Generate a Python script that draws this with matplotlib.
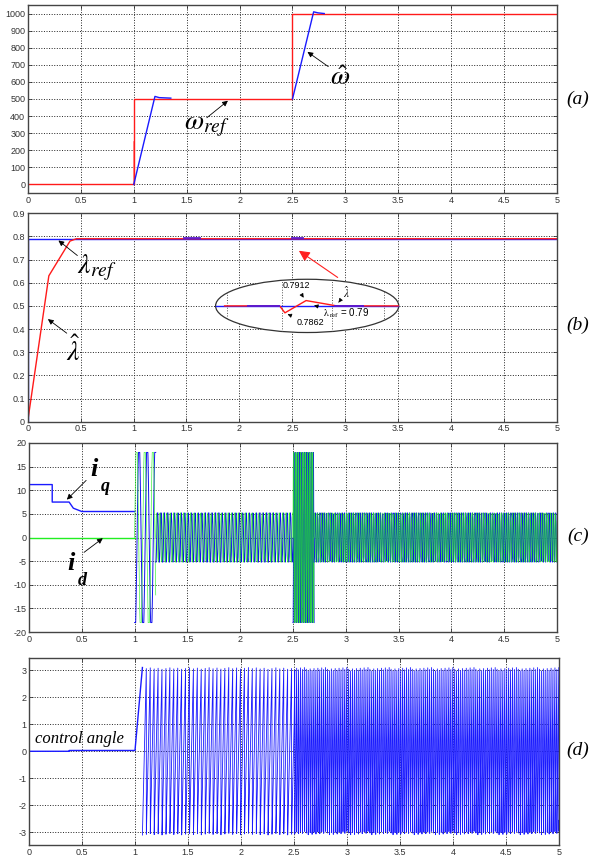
import numpy as np
import matplotlib
matplotlib.use('Agg')
import matplotlib.pyplot as plt
from matplotlib.patches import Ellipse

plt.rcParams['mathtext.fontset'] = 'stix'
plt.rcParams['font.family'] = ['Liberation Sans', 'DejaVu Sans']
plt.rcParams['axes.unicode_minus'] = False

# ---- panel (a): speed ----
w_ref_t = [0, 1.0, 1.0, 2.5, 2.5, 5.0]
w_ref_v = [0, 0, 500, 500, 1000, 1000]
w_spike_t = [1.0, 1.0]
w_spike_v = [0, 250]
w_hat1_t = [1.0, 1.2, 1.24, 1.35]
w_hat1_v = [0, 515, 508, 505]
w_hat2_t = [2.5, 2.7, 2.74, 2.8]
w_hat2_v = [500, 1010, 1004, 1000]

# ---- panel (b): flux ----
lam_ref_t = [0, 0, 5.0]
lam_ref_v = [0, 0.79, 0.79]
lam_hat_t = [0, 0.2, 0.4, 0.46, 5.0]
lam_hat_v = [0, 0.63, 0.78, 0.79, 0.79]
lam_blip_t = [[1.48, 1.63], [2.5, 2.6]]
# inset (drawn in the frame of panel b)
ins_red_t = [1.86, 2.38, 2.43, 2.63, 2.92, 3.5]
ins_red_v = [0.5, 0.5, 0.47, 0.523, 0.5, 0.5]
ins_blue_t = [1.78, 3.5]
ins_purple_t = [[2.08, 2.37], [2.90, 3.17]]
ins_grid_x = [1.88, 2.40, 2.87, 3.37]

# ---- panel (c): currents ----
iq_t = [0, 0.22, 0.22, 0.38, 0.42, 0.5, 1.0]
iq_v = [11.2, 11.2, 7.5, 7.5, 6.2, 5.5, 5.5]
id_t = [0, 1.0]
id_v = [0, 0]
osc_start = [1.0, 1.2, 2.5, 2.7]
osc_end = [1.2, 2.5, 2.7, 5.0]
osc_amp = [18.0, 5.2, 18.0, 5.2]
osc_freq = [13.0, 31.0, 60.0, 47.0]
osc_dt = [0.0004, 0.004, 0.002, 0.004]

# ---- panel (d): control angle ----
ang_t = [0, 0.38, 0.38, 1.0, 1.07]
ang_v = [0, 0, 0.03, 0.03, 3.1]
saw_start = [1.07, 2.5]
saw_end = [2.5, 5.0]
saw_freq = [27.0, 55.0]
saw_amp = 3.1

blue = '#1a1aff'
red = '#ff1a1a'
green = '#22ee22'


def style(ax, yt, ylim):
    ax.set_xlim(0, 5)
    ax.set_ylim(*ylim)
    ax.set_xticks(np.arange(0, 5.01, 0.5))
    ax.set_xticklabels(['0', '0.5', '1', '1.5', '2', '2.5', '3', '3.5', '4', '4.5', '5'])
    ax.set_yticks(yt)
    ax.grid(True, linestyle=':', color='#222222', linewidth=0.7)
    ax.tick_params(direction='in', length=3, width=0.6, labelsize=6.5,
                   colors='#333333', top=True, right=True, pad=2)
    for s in ax.spines.values():
        s.set_color('#444444')
        s.set_linewidth(1.0)


fig = plt.figure(figsize=(5.94, 8.6), dpi=100)
axa = fig.add_axes([0.0471, 0.7756, 0.8906, 0.2186])
axb = fig.add_axes([0.0466, 0.5097, 0.8911, 0.2423])
axc = fig.add_axes([0.0488, 0.2651, 0.8889, 0.2198])
axd = fig.add_axes([0.0488, 0.0174, 0.8923, 0.2174])

arrow_k = dict(arrowstyle='-|>', color='k', lw=0.6, mutation_scale=8)

# (a)
style(axa, np.arange(0, 1001, 100), (-50, 1050))
axa.set_yticklabels([str(v) for v in range(0, 1001, 100)])
axa.plot(w_spike_t, w_spike_v, color='#ff8080', lw=1.2)
axa.plot(w_ref_t, w_ref_v, color=red, lw=1.0)
axa.plot(w_hat1_t, w_hat1_v, color=blue, lw=1.0)
axa.plot(w_hat2_t, w_hat2_v, color=blue, lw=1.0)
axa.annotate('', xy=(1.91, 500), xytext=(1.67, 380), arrowprops=arrow_k)
axa.text(1.47, 340, r'$\omega_{ref}$', fontsize=20, va='center')
axa.annotate('', xy=(2.62, 785), xytext=(2.86, 680), arrowprops=arrow_k)
axa.text(2.85, 620, r'$\hat{\omega}$', fontsize=20, va='center')

# (b)
style(axb, np.arange(0, 0.91, 0.1), (0, 0.9))
axb.set_yticklabels(['0', '0.1', '0.2', '0.3', '0.4', '0.5', '0.6', '0.7', '0.8', '0.9'])
axb.plot(lam_ref_t, lam_ref_v, color=blue, lw=1.0)
axb.plot(lam_hat_t, lam_hat_v, color=red, lw=1.0)
for seg in lam_blip_t:
    axb.plot(seg, [0.7915, 0.7915], color='#5a1ad0', lw=1.3)
ell = Ellipse((2.64, 0.5), 1.73, 0.23, facecolor='white', edgecolor='#333333', lw=0.9, zorder=3)
axb.add_patch(ell)
for gx in ins_grid_x:
    ln, = axb.plot([gx, gx], [0.38, 0.62], ls=':', color='#555555', lw=0.7, zorder=3.1)
    ln.set_clip_path(ell)
axb.plot(ins_blue_t, [0.5, 0.5], color=blue, lw=1.0, zorder=3.2)
axb.plot(ins_red_t, ins_red_v, color=red, lw=1.0, zorder=3.3)
for seg in ins_purple_t:
    axb.plot(seg, [0.5, 0.5], color='#5a1ad0', lw=1.4, zorder=3.4)
arrow_s = dict(arrowstyle='-|>', color='k', lw=0.5, mutation_scale=6)
axb.annotate('0.7912', xy=(2.62, 0.525), xytext=(2.41, 0.586), fontsize=6.5,
             va='center', arrowprops=arrow_s, zorder=4)
axb.annotate('0.7862', xy=(2.43, 0.468), xytext=(2.54, 0.427), fontsize=6.5,
             va='center', arrowprops=arrow_s, zorder=4)
axb.annotate(r'$\hat{\lambda}$', xy=(2.92, 0.505), xytext=(2.98, 0.56), fontsize=8,
             va='center', arrowprops=arrow_s, zorder=4)
axb.annotate(r'$\mathrm{\lambda}_{\ \mathrm{ref}}$ = 0.79', xy=(2.68, 0.505), xytext=(2.79, 0.467),
             fontsize=7, va='center', arrowprops=arrow_s, zorder=4)
axb.annotate('', xy=(2.54, 0.745), xytext=(2.95, 0.616),
             arrowprops=dict(arrowstyle='-|>', color='#ff2020', lw=0.8, mutation_scale=16), zorder=4)
axb.annotate('', xy=(0.27, 0.79), xytext=(0.49, 0.71), arrowprops=arrow_k)
axb.text(0.47, 0.665, r'$\lambda_{ref}$', fontsize=20, va='center')
axb.annotate('', xy=(0.17, 0.45), xytext=(0.39, 0.375), arrowprops=arrow_k)
axb.text(0.36, 0.305, r'$\hat{\lambda}$', fontsize=20, va='center')

# (c)
style(axc, np.arange(-20, 21, 5), (-20, 20))
axc.plot(id_t, id_v, color=green, lw=1.0)
axc.plot(iq_t, iq_v, color=blue, lw=1.0)
for t0, t1, a, f, dt in zip(osc_start, osc_end, osc_amp, osc_freq, osc_dt):
    tt = np.arange(t0, t1 + dt / 2, dt)
    ph = 2 * np.pi * f * (tt - t0)
    b_sig = np.clip(1.15 * a * np.sin(ph - 1.9), -a, a)
    g_sig = np.clip(1.15 * a * np.sin(ph), -a, a)
    axc.plot(tt, b_sig, color='#1010ee', lw=0.7)
    axc.plot(tt, g_sig, color=green, lw=0.5, alpha=0.85)
axc.annotate('', xy=(0.34, 7.6), xytext=(0.56, 12.5), arrowprops=arrow_k)
axc.text(0.58, 14.3, 'i', fontsize=19, family='Liberation Serif', style='italic',
         weight='bold', va='center')
axc.text(0.68, 10.8, 'q', fontsize=13, family='Liberation Serif', style='italic',
         weight='bold', va='center')
axc.annotate('', xy=(0.72, 0.2), xytext=(0.5, -3.5), arrowprops=arrow_k)
axc.text(0.36, -5.5, 'i', fontsize=19, family='Liberation Serif', style='italic',
         weight='bold', va='center')
axc.text(0.46, -9.0, 'd', fontsize=13, family='Liberation Serif', style='italic',
         weight='bold', va='center')

# (d)
style(axd, np.arange(-3, 4, 1), (-3.47, 3.45))
td = np.arange(1.07, 5.0, 0.0004)
ang = np.zeros_like(td)
phase = np.pi
for t0, t1, f in zip(saw_start, saw_end, saw_freq):
    m = (td >= t0) & (td < t1)
    p = phase + 2 * np.pi * f * (td[m] - t0)
    ang[m] = saw_amp * ((np.mod(p + np.pi, 2 * np.pi) - np.pi) / np.pi)
    phase = p[-1]
axd.plot(ang_t, ang_v, color=blue, lw=1.0)
axd.plot(td, ang, color=blue, lw=0.6)
axd.text(0.06, 0.45, 'control angle', fontsize=12, family='Liberation Serif',
         style='italic', va='center')

for lab, y in zip(['(a)', '(b)', '(c)', '(d)'], [0.884, 0.622, 0.376, 0.128]):
    fig.text(0.973, y, lab, fontsize=14, family='Liberation Serif', style='italic',
             ha='center', va='center')

fig.savefig('out.png', dpi=100)
